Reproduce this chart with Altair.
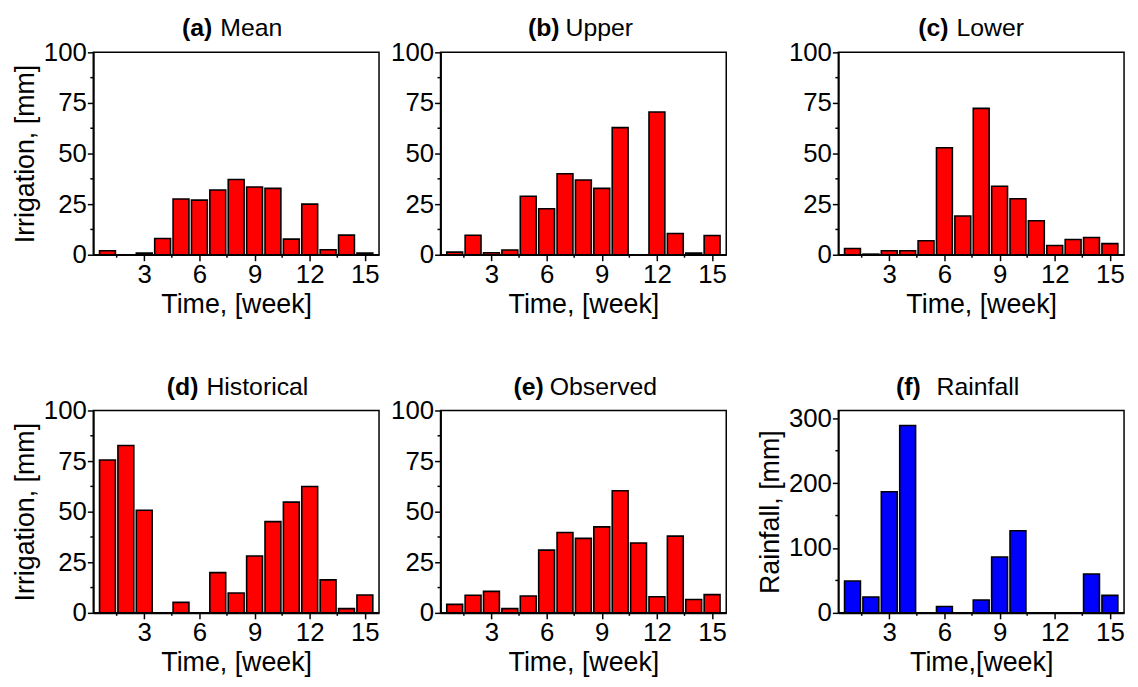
import altair as alt
import pandas as pd

weeks = list(range(1, 16))
mean_mm = [2.0, 0, 0.8, 8.0, 27.5, 27.0, 32.0, 37.2, 33.5, 32.8, 7.7, 25.0, 2.5, 9.7, 0.8]
upper_mm = [1.3, 9.6, 1.0, 2.3, 28.9, 22.7, 40.0, 36.9, 32.8, 62.8, 0, 70.5, 10.5, 0.8, 9.5]
lower_mm = [3.1, 0.3, 2.0, 2.0, 6.9, 52.9, 19.1, 72.3, 33.8, 27.7, 16.8, 4.6, 7.5, 8.5, 5.5]
historical_mm = [75.5, 82.7, 50.7, 0, 5.2, 0, 19.9, 9.8, 28.1, 45.1, 54.7, 62.4, 16.3, 2.1, 8.8]
observed_mm = [4.2, 8.7, 10.6, 2.1, 8.3, 31.0, 39.7, 36.8, 42.5, 60.3, 34.5, 8.0, 37.9, 6.6, 9.0]
rainfall_mm = [49.0, 24.5, 186.7, 288.8, 0, 9.7, 0, 19.9, 86.2, 126.5, 0, 0, 0, 60.0, 27.0]

x_major = [3, 6, 9, 12, 15]
x_minor = [1.5, 4.5, 7.5, 10.5, 13.5]
irr_major = [0, 25, 50, 75, 100]
irr_minor = [12.5, 37.5, 62.5, 87.5]
rain_major = [0, 100, 200, 300]
rain_minor = [50, 150, 250]

FONT = "Liberation Sans"
W, H = 288, 204
RED = "#ff0000"
BLUE = "#0000ff"


def panel(label, name, values, ytitle, xtitle, ymax, ymaj, ymin, color, lab_x, name_x):
    df = pd.DataFrame({"week": weeks, "value": values})
    xs = alt.Scale(domain=[0.5, 15.5], nice=False, zero=False)
    ys = alt.Scale(domain=[0, ymax], nice=False)
    yaxis = alt.Axis(values=ymaj, title=ytitle) if ytitle else alt.Axis(values=ymaj, title=None)
    xaxis = alt.Axis(values=x_major, title=xtitle)
    bars = alt.Chart(df).transform_filter("datum.value > 0").mark_bar(
        size=16, color=color, stroke="black", strokeWidth=1.6
    ).encode(
        x=alt.X("week:Q", scale=xs, axis=xaxis),
        y=alt.Y("value:Q", scale=ys, axis=yaxis),
    )
    ymt = alt.Chart(pd.DataFrame({"value": ymin})).mark_rule(color="black", strokeWidth=1.5).encode(
        y=alt.Y("value:Q", scale=ys, axis=yaxis), x=alt.value(0), x2=alt.value(-3)
    )
    xmt = alt.Chart(pd.DataFrame({"week": x_minor})).mark_rule(color="black", strokeWidth=1.5).encode(
        x=alt.X("week:Q", scale=xs, axis=xaxis), y=alt.value(H), y2=alt.value(H + 3)
    )
    t1 = alt.Chart(pd.DataFrame({"t": [label]})).mark_text(
        font=FONT, fontSize=25, fontWeight="bold", align="right", baseline="middle", color="black"
    ).encode(x=alt.value(lab_x), y=alt.value(-24), text="t:N")
    t2 = alt.Chart(pd.DataFrame({"t": [name]})).mark_text(
        font=FONT, fontSize=25, align="left", baseline="middle", color="black"
    ).encode(x=alt.value(name_x), y=alt.value(-24), text="t:N")
    return alt.layer(bars, ymt, xmt, t1, t2).properties(width=W, height=H)


def spacer(w):
    return alt.Chart(pd.DataFrame({"s": [0]})).mark_point(opacity=0).properties(
        width=w, height=H, view=alt.ViewBackground(strokeOpacity=0)
    )


a = panel("(a)", "Mean", mean_mm, "Irrigation, [mm]", "Time, [week]", 100, irr_major, irr_minor, RED, 120, 128)
b = panel("(b)", "Upper", upper_mm, None, "Time, [week]", 100, irr_major, irr_minor, RED, 120, 126)
c = panel("(c)", "Lower", lower_mm, None, "Time, [week]", 100, irr_major, irr_minor, RED, 111, 119)
d = panel("(d)", "Historical", historical_mm, "Irrigation, [mm]", "Time, [week]", 100, irr_major, irr_minor, RED, 106, 114)
e = panel("(e)", "Observed", observed_mm, None, "Time, [week]", 100, irr_major, irr_minor, RED, 104, 110)
f = panel("(f)", "Rainfall", rainfall_mm, "Rainfall, [mm]", "Time,[week]", 312, rain_major, rain_minor, BLUE, 83, 99)

chart = alt.concat(
    a, spacer(62), b, spacer(113), c,
    d, spacer(62), e, spacer(113), f,
    columns=5, bounds="flush", spacing={"row": 157, "column": 0},
).properties(
    padding={"left": 2, "top": 5, "right": 5, "bottom": 5}
).configure_view(
    stroke="black", strokeWidth=1.5
).configure_axis(
    grid=False,
    domainColor="black", domainWidth=1.8,
    tickColor="black", tickWidth=1.5, tickSize=6,
    labelFont=FONT, labelFontSize=26, labelColor="black", labelPadding=1,
    titleFont=FONT, titleFontSize=27, titleFontWeight="normal", titleColor="black",
    titlePadding=4,
)

chart.save("out.html", embed_options={"renderer": "svg", "actions": False})
